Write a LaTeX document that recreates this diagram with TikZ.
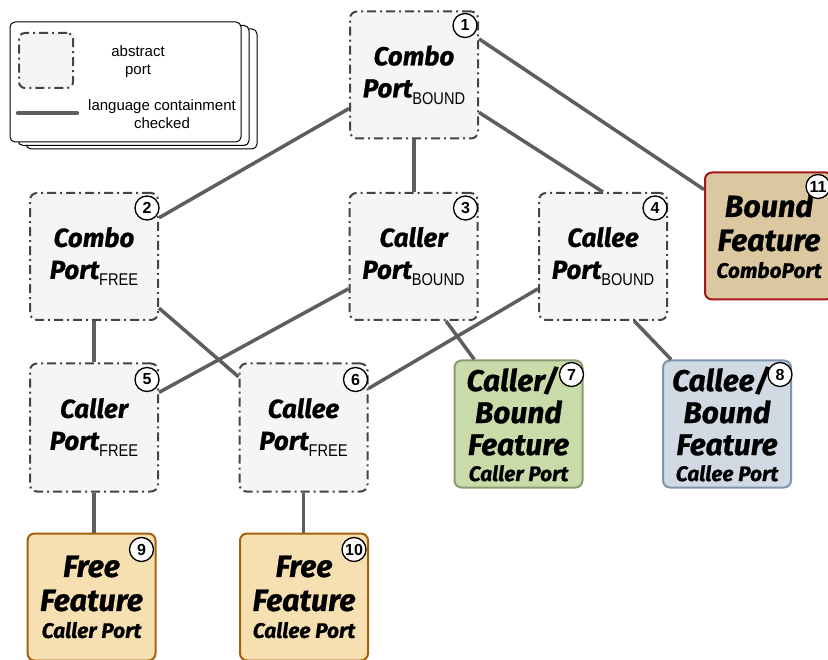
\documentclass[tikz,border=0pt]{standalone}
\usepackage{fontspec}
\setmainfont{Liberation Sans}
\newfontfamily\handfont{Fira Sans}[BoldItalicFeatures={FakeBold=0.8}]
\usetikzlibrary{calc}

\definecolor{portfill}{HTML}{F5F5F5}
\definecolor{portline}{HTML}{444444}
\definecolor{linkgray}{HTML}{5E5E5E}
\definecolor{greenfill}{HTML}{C9DBA9}
\definecolor{greenline}{HTML}{8C9B74}
\definecolor{bluefill}{HTML}{D1DAE3}
\definecolor{blueline}{HTML}{7E95AE}
\definecolor{wheatfill}{HTML}{F6DFB1}
\definecolor{wheatline}{HTML}{A5600B}
\definecolor{tanfill}{HTML}{DCC8A0}
\definecolor{tanline}{HTML}{A51616}

\newcommand\portfont{\handfont\bfseries\itshape\fontsize{26}{32}\selectfont}
\newcommand\featfont{\handfont\bfseries\itshape\fontsize{30.5}{34}\selectfont}
\newcommand\smallfeat{\handfont\bfseries\itshape\fontsize{21}{22}\selectfont}
\newcommand\lowsub[1]{\raisebox{-7pt}{\normalfont\fontsize{17}{17}\selectfont\scalebox{0.86}[1]{#1}}}

\tikzset{
  port/.style={draw=portline, fill=portfill, line width=2pt,
    dash pattern=on 9pt off 4pt on 2pt off 4pt, rounded corners=7pt,
    minimum width=128pt, minimum height=127pt, inner sep=0pt,
    align=center, font=\portfont},
  feature/.style={line width=2pt, rounded corners=7pt,
    minimum width=128pt, minimum height=127pt, inner sep=0pt,
    align=center, font=\featfont},
  numcirc/.style={circle, draw=black, fill=white, line width=1.3pt,
    minimum size=24pt, inner sep=0pt, font=\bfseries\fontsize{16}{16}\selectfont},
  link/.style={draw=linkgray, line width=3.5pt},
  sheet/.style={draw=black, fill=white, line width=1pt, rounded corners=5pt},
  legendtext/.style={align=center, font=\fontsize{15}{18}\selectfont, inner sep=0pt}
}

\begin{document}
\begin{tikzpicture}[x=1pt, y=-1pt]
\useasboundingbox (0,0) rectangle (828,660);
\clip (0,0) rectangle (828,660);

% legend: stacked sheets
\draw[sheet] (26,29) rectangle (257,149);
\draw[sheet] (18,25.5) rectangle (249,145.5);
\draw[sheet] (10,22) rectangle (241,142);
\node[draw=portline, fill=portfill, line width=2pt,
  dash pattern=on 9pt off 4pt on 2pt off 4pt, rounded corners=6pt,
  minimum width=54pt, minimum height=55pt] (lgport) at (46,60.5) {};
\node[legendtext] (lgporttxt) at (138,62) {abstract\\port};
\coordinate (lga) at (18,113);
\coordinate (lgb) at (77,113);
\draw[draw=linkgray, line width=4.5pt, line cap=round] (lga) -- (lgb);
\node[legendtext] (lglinetxt) at (162,114.5) {language containment\\checked};

% abstract ports
\node[port] (n1) at (414,75) {Combo\\Port\lowsub{BOUND}};
\node[port] (n2) at (94,256.5) {Combo\\Port\lowsub{FREE}};
\node[port] (n3) at (413.5,256.5) {Caller\\Port\lowsub{BOUND}};
\node[port] (n4) at (603,256.5) {Callee\\Port\lowsub{BOUND}};
\node[port, minimum height=128pt] (n5) at (94,427.5) {Caller\\Port\lowsub{FREE}};
\node[port, minimum height=128pt] (n6) at (303.5,427.5) {Callee\\Port\lowsub{FREE}};

% concrete features
\node[feature, draw=greenline, fill=greenfill, font=\featfont\fontsize{30}{32}\selectfont]
  (n7) at (518.5,424) {Caller/\hspace*{12pt}\\Bound\\Feature\\[-6pt]{\smallfeat Caller Port}};
\node[feature, draw=blueline, fill=bluefill, font=\featfont\fontsize{30}{32}\selectfont]
  (n8) at (727,424) {Callee/\hspace*{12pt}\\Bound\\Feature\\[-6pt]{\smallfeat Callee Port}};
\node[feature, draw=wheatline, fill=wheatfill] (n9) at (91.5,597)
  {Free\\Feature\\[-7pt]{\smallfeat Caller Port}};
\node[feature, draw=wheatline, fill=wheatfill] (n10) at (304,597)
  {Free\\Feature\\[-7pt]{\smallfeat Callee Port}};
\node[feature, draw=tanline, fill=tanfill] (n11) at (769,236)
  {Bound\\Feature\\[-7pt]{\smallfeat ComboPort}};

% containment links
\draw[link] ($(n1.north west)!0.76!(n1.south west)$) -- ($(n2.north east)!0.2!(n2.south east)$);
\draw[link] (n1.south) -- (n1.south |- n3.north);
\draw[link] ($(n1.north east)!0.79!(n1.south east)$) -- (n4.north);
\draw[link] ($(n1.north east)!0.22!(n1.south east)$) -- ($(n11.north west)!0.14!(n11.south west)$);
\draw[link] (n2.south) -- (n2.south |- n5.north);
\draw[link] ($(n2.north east)!0.9!(n2.south east)$) -- ($(n6.north west)!0.11!(n6.south west)$);
\draw[link] ($(n3.north west)!0.75!(n3.south west)$) -- ($(n5.north east)!0.23!(n5.south east)$);
\draw[link] ($(n4.north west)!0.75!(n4.south west)$) -- ($(n6.north east)!0.2!(n6.south east)$);
\draw[link] ($(n3.south west)!0.75!(n3.south east)$) -- ($(n7.north west)!0.16!(n7.north east)$);
\draw[link] ($(n4.south west)!0.74!(n4.south east)$) -- ($(n8.north west)!0.07!(n8.north east)$);
\draw[link] (n5.south) -- (n5.south |- n9.north);
\draw[link] (n6.south) -- (n6.south |- n10.north);

% index markers
\node[numcirc] (c1) at ($(n1.north east)+(-14,15)$) {1};
\node[numcirc] (c2) at ($(n2.north east)+(-12,16)$) {2};
\node[numcirc] (c3) at ($(n3.north east)+(-13,16)$) {3};
\node[numcirc] (c4) at ($(n4.north east)+(-13,16)$) {4};
\node[numcirc] (c5) at ($(n5.north east)+(-12,17)$) {5};
\node[numcirc] (c6) at ($(n6.north east)+(-13,17)$) {6};
\node[numcirc] (c7) at ($(n7.north east)+(-12,15)$) {7};
\node[numcirc] (c8) at ($(n8.north east)+(-12,15)$) {8};
\node[numcirc] (c9) at ($(n9.north east)+(-15,17)$) {9};
\node[numcirc] (c10) at ($(n10.north east)+(-15,17)$) {10};
\node[numcirc] (c11) at ($(n11.north east)+(-16,15)$) {11};
\end{tikzpicture}
\end{document}
